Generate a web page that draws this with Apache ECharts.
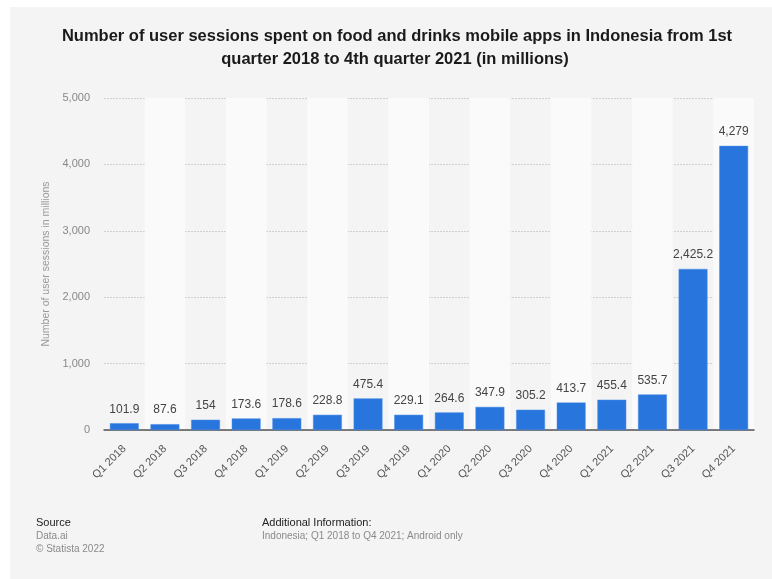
<!DOCTYPE html>
<html>
<head>
<meta charset="utf-8">
<script src="https://cdn.jsdelivr.net/npm/echarts@6/dist/echarts.min.js"></script>
<style>
html, body { margin: 0; padding: 0; background: #fff; }
#main { width: 772px; height: 579px; }
</style>
</head>
<body>
<div id="main"></div>
<script>
// 季度
var quarters = ['Q1 2018', 'Q2 2018', 'Q3 2018', 'Q4 2018', 'Q1 2019', 'Q2 2019', 'Q3 2019', 'Q4 2019',
	'Q1 2020', 'Q2 2020', 'Q3 2020', 'Q4 2020', 'Q1 2021', 'Q2 2021', 'Q3 2021', 'Q4 2021'];
// 会话数（百万）
var sessions = [101.9, 87.6, 154, 173.6, 178.6, 228.8, 475.4, 229.1,
	264.6, 347.9, 305.2, 413.7, 455.4, 535.7, 2425.2, 4279];
var yTicks = [0, 1000, 2000, 3000, 4000, 5000];

var myChart = echarts.init(document.getElementById('main'));
var font = 'Liberation Sans, Arial, sans-serif';

function fmt(v) {
	var parts = String(v).split('.');
	parts[0] = parts[0].replace(/\B(?=(\d{3})+(?!\d))/g, ',');
	return parts.join('.');
}

var option = {
	animation: false,
	textStyle: { fontFamily: font },
	graphic: [
		{ type: 'rect', left: 10, top: 7, shape: { width: 800, height: 600 }, style: { fill: '#f4f4f4' }, z: -10 },
		// 标题
		{ type: 'text', x: 397, y: 28, style: { text: 'Number of user sessions spent on food and drinks mobile apps in Indonesia from 1st', align: 'center', fill: '#1a1a1a', font: 'bold 16.5px ' + font } },
		{ type: 'text', x: 395, y: 51, style: { text: 'quarter 2018 to 4th quarter 2021 (in millions)', align: 'center', fill: '#1a1a1a', font: 'bold 16.5px ' + font } },
		// 底部信息
		{ type: 'text', left: 36, top: 517, style: { text: 'Source', fill: '#222', font: '11px ' + font } },
		{ type: 'text', left: 36, top: 531, style: { text: 'Data.ai', fill: '#8a8a8a', font: '10px ' + font } },
		{ type: 'text', left: 36, top: 544, style: { text: '\u00a9 Statista 2022', fill: '#8a8a8a', font: '10px ' + font } },
		{ type: 'text', left: 262, top: 517, style: { text: 'Additional Information:', fill: '#222', font: '11px ' + font } },
		{ type: 'text', left: 262, top: 531, style: { text: 'Indonesia; Q1 2018 to Q4 2021; Android only', fill: '#8a8a8a', font: '10px ' + font } }
	],
	grid: { left: 104, right: 18, top: 98, bottom: 149 },
	xAxis: {
		type: 'category',
		data: quarters,
		axisLine: { lineStyle: { color: '#555', width: 1.5 } },
		axisTick: { show: false },
		axisLabel: { rotate: 45, color: '#555', fontSize: 11, margin: 17, interval: 0 },
		splitArea: { show: true, areaStyle: { color: ['rgba(0,0,0,0)', '#fafafa'] } }
	},
	yAxis: {
		type: 'value',
		min: yTicks[0],
		max: yTicks[yTicks.length - 1],
		interval: 1000,
		name: 'Number of user sessions in millions',
		nameLocation: 'middle',
		nameGap: 43,
		nameTextStyle: { color: '#999', fontSize: 10.5 },
		axisLine: { show: false },
		axisTick: { show: false },
		axisLabel: { color: '#888', fontSize: 11, margin: 14, formatter: function (v) { return fmt(v); } },
		splitLine: { lineStyle: { color: '#cfcfcf', type: [2, 1] } }
	},
	series: [{
		type: 'bar',
		data: sessions,
		barWidth: '71%',
		itemStyle: { color: '#2876dd', borderColor: '#4a8de6', borderWidth: 0.5 },
		label: {
			show: true,
			position: 'top',
			distance: 8,
			color: '#444',
			fontSize: 12,
			formatter: function (p) { return fmt(p.value); }
		}
	}]
};
myChart.setOption(option);
</script>
</body>
</html>
